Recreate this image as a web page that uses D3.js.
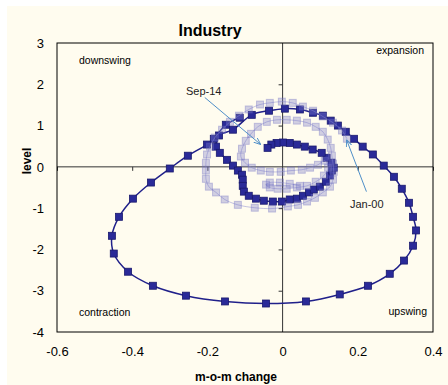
<!DOCTYPE html>
<html>
<head>
<meta charset="utf-8">
<script src="https://cdn.jsdelivr.net/npm/d3@7"></script>
<style>
body { margin: 0; background: #fff; }
text { font-family: Arial, "Liberation Sans", sans-serif; fill: #000; }
</style>
</head>
<body>
<div id="container"></div>
<script>
// recent period (dark squares), m-o-m change and level
var darkX = [-0.114, -0.151, -0.183, -0.201, -0.252, -0.300, -0.350, -0.398, -0.435, -0.454,
	-0.449, -0.411, -0.345, -0.257, -0.153, -0.044, 0.062, 0.152, 0.227, 0.285,
	0.323, 0.347, 0.355, 0.347, 0.336, 0.317, 0.296, 0.269, 0.240, 0.213,
	0.190, 0.168, 0.147, 0.128, 0.107, 0.081, 0.046, 0.006, -0.036, -0.082,
	-0.132, -0.169, -0.177, -0.167, -0.148, -0.132, -0.119, -0.108, -0.106, -0.106,
	-0.103, -0.090, -0.071, -0.050, -0.026, -0.002, 0.019, 0.038, 0.054, 0.070,
	0.083, 0.099, 0.115, 0.126, 0.131, 0.136, 0.130, 0.117, 0.104, 0.080,
	0.059, 0.038, 0.019, 0.001, -0.016, -0.030, -0.040];
var darkY = [1.19, 1.02, 0.68, 0.54, 0.27, -0.04, -0.38, -0.77, -1.21, -1.67,
	-2.10, -2.54, -2.88, -3.12, -3.26, -3.31, -3.26, -3.09, -2.88, -2.59,
	-2.27, -1.91, -1.54, -1.21, -0.87, -0.53, -0.24, 0.03, 0.30, 0.49,
	0.68, 0.85, 1.00, 1.12, 1.24, 1.31, 1.39, 1.41, 1.36, 1.26,
	0.90, 0.76, 0.49, 0.34, 0.17, 0.03, -0.09, -0.19, -0.31, -0.46,
	-0.60, -0.70, -0.77, -0.82, -0.84, -0.84, -0.79, -0.77, -0.70, -0.62,
	-0.55, -0.48, -0.36, -0.21, -0.09, -0.02, 0.10, 0.22, 0.34, 0.42,
	0.49, 0.54, 0.58, 0.59, 0.58, 0.54, 0.46];

// earlier period from Jan-00 (light squares)
var lightX = [0.171, 0.158, 0.134, 0.107, 0.081, 0.054, 0.027, -0.002, -0.034, -0.060,
	-0.090, -0.116, -0.140, -0.161, -0.180, -0.193, -0.201, -0.204, -0.204, -0.204,
	-0.196, -0.177, -0.154, -0.119, -0.074, -0.028, 0.014, 0.041, 0.065, 0.086,
	0.107, 0.126, 0.134, 0.136, 0.134, 0.131, 0.128, 0.120, 0.107, 0.088,
	0.065, 0.038, 0.011, -0.015, -0.042, -0.066, -0.084, -0.098, -0.108, -0.111,
	-0.100, -0.082, -0.058, -0.034, -0.005, 0.022, 0.051, 0.073, 0.094, 0.112,
	0.121, 0.110, 0.088, 0.065, 0.038, 0.011, -0.013, -0.034, -0.044, -0.034,
	-0.007, 0.019, 0.046];
var lightY = [0.68, 0.88, 1.07, 1.22, 1.36, 1.46, 1.55, 1.58, 1.55, 1.51,
	1.39, 1.24, 1.09, 0.90, 0.71, 0.49, 0.30, 0.10, -0.09, -0.29,
	-0.48, -0.62, -0.79, -0.92, -0.99, -1.01, -0.96, -0.92, -0.84, -0.75,
	-0.62, -0.48, -0.31, -0.12, 0.08, 0.27, 0.46, 0.66, 0.85, 0.97,
	1.07, 1.12, 1.14, 1.14, 1.09, 0.97, 0.80, 0.63, 0.44, 0.25,
	0.10, -0.02, -0.09, -0.12, -0.12, -0.09, -0.07, -0.02, 0.05, 0.15,
	-0.02, -0.21, -0.36, -0.46, -0.50, -0.53, -0.53, -0.50, -0.43, -0.38,
	-0.38, -0.41, -0.46];

var xTicks = [-0.6, -0.4, -0.2, 0, 0.2, 0.4];
var yTicks = [-4, -3, -2, -1, 0, 1, 2, 3];

var margin = {top: 43, left: 57},
	width = 376,
	height = 289;

var svg = d3.select("#container").append("svg")
	.attr("width", 448)
	.attr("height", 385);

// cream background of the chart area
svg.append("rect")
	.attr("x", 7).attr("y", 6)
	.attr("width", 441).attr("height", 379)
	.style("fill", "#fffcef");

var g = svg.append("g")
	.attr("transform", "translate(" + margin.left + "," + margin.top + ")");

var x = d3.scaleLinear().domain([-0.6, 0.4]).range([0, width]);
var y = d3.scaleLinear().domain([-4, 3]).range([height, 0]);

// plain hyphen minus like the original
var fmt = function(d) { return String(d); };

// tick labels outside the frame
g.append("g")
	.attr("transform", "translate(0," + height + ")")
	.call(d3.axisBottom(x).tickValues(xTicks).tickSize(0).tickPadding(15).tickFormat(fmt))
	.call(function(a) { a.select(".domain").remove(); })
	.selectAll("text").style("font-size", "13px").style("font-family", "Arial, 'Liberation Sans', sans-serif");

g.append("g")
	.call(d3.axisLeft(y).tickValues(yTicks).tickSize(0).tickPadding(13).tickFormat(fmt))
	.call(function(a) { a.select(".domain").remove(); })
	.selectAll("text").style("font-size", "13px").style("font-family", "Arial, 'Liberation Sans', sans-serif");

// zero lines with their small ticks
g.append("g")
	.attr("transform", "translate(0," + y(0) + ")")
	.call(d3.axisBottom(x).tickValues(xTicks.filter(function(d) { return d != 0; })).tickSize(4).tickFormat(""))
	.call(function(a) {
		a.select(".domain").attr("d", "M0,0H" + width).style("stroke", "#333");
		a.selectAll("line").style("stroke", "#333");
	});

g.append("g")
	.attr("transform", "translate(" + x(0) + ",0)")
	.call(d3.axisLeft(y).tickValues(yTicks.filter(function(d) { return d != 0 && d != 3 && d != -4; })).tickSize(4).tickFormat(""))
	.call(function(a) {
		a.select(".domain").attr("d", "M0,0V" + height).style("stroke", "#333");
		a.selectAll("line").style("stroke", "#333");
	});

// frame
g.append("rect")
	.attr("width", width).attr("height", height)
	.style("fill", "none").style("stroke", "#000").style("stroke-width", 1);

var line = d3.line()
	.x(function(d) { return x(d[0]); })
	.y(function(d) { return y(d[1]); })
	.curve(d3.curveCatmullRom.alpha(0.5));

var darkData = darkX.map(function(v, i) { return [v, darkY[i]]; });
var lightData = lightX.map(function(v, i) { return [v, lightY[i]]; });

// dark series
g.append("path").datum(darkData)
	.attr("d", line)
	.style("fill", "none").style("stroke", "#20208a").style("stroke-width", 1.5);

g.selectAll(".dark").data(darkData).enter()
	.append("rect")
		.attr("class", "dark")
		.attr("x", function(d) { return x(d[0]) - 3.5; })
		.attr("y", function(d) { return y(d[1]) - 3.5; })
		.attr("width", 7).attr("height", 7)
		.style("fill", "#2a2a98").style("stroke", "#1a1a6e").style("stroke-width", 0.8);

// light series on top, translucent
g.append("path").datum(lightData)
	.attr("d", line)
	.style("fill", "none").style("stroke", "#8a8ad0").style("stroke-opacity", 0.5).style("stroke-width", 1);

g.selectAll(".light").data(lightData).enter()
	.append("rect")
		.attr("class", "light")
		.attr("x", function(d) { return x(d[0]) - 3.5; })
		.attr("y", function(d) { return y(d[1]) - 3.5; })
		.attr("width", 7).attr("height", 7)
		.style("fill", "#7c7cc8").style("fill-opacity", 0.35)
		.style("stroke", "#6a6abf").style("stroke-opacity", 0.35);

// quadrant labels
var quad = g.append("g").style("font-size", "10.5px");
quad.append("text").attr("x", 22).attr("y", 21).text("downswing");
quad.append("text").attr("x", 367).attr("y", 11).style("text-anchor", "end").text("expansion");
quad.append("text").attr("x", 22).attr("y", 273).text("contraction");
quad.append("text").attr("x", 370).attr("y", 272).style("text-anchor", "end").text("upswing");

// annotations
svg.append("defs").append("marker")
	.attr("id", "arr")
	.attr("viewBox", "0 0 10 10")
	.attr("refX", 10).attr("refY", 5)
	.attr("markerWidth", 7).attr("markerHeight", 7)
	.attr("orient", "auto")
	.append("path")
		.attr("d", "M0,1L10,5L0,9")
		.style("fill", "none").style("stroke", "#4f8fc8").style("stroke-width", 1.3);

var notes = [
	{label: "Sep-14", tx: -0.257, ty: 1.75, x1: -0.207, y1: 1.68, x2: -0.058, y2: 0.54},
	{label: "Jan-00", tx: 0.179, ty: -0.99, x1: 0.223, y1: -0.60, x2: 0.170, y2: 0.66}
];
notes.forEach(function(n) {
	g.append("line")
		.attr("x1", x(n.x1)).attr("y1", y(n.y1))
		.attr("x2", x(n.x2)).attr("y2", y(n.y2))
		.style("stroke", "#4f8fc8").style("stroke-width", 1)
		.attr("marker-end", "url(#arr)");
	g.append("text")
		.attr("x", x(n.tx)).attr("y", y(n.ty))
		.style("font-size", "11px").style("fill", "#222")
		.text(n.label);
});

// titles
svg.append("text")
	.attr("x", 210).attr("y", 36)
	.style("text-anchor", "middle").style("font-size", "16px").style("font-weight", "bold")
	.text("Industry");

svg.append("text")
	.attr("x", 236).attr("y", 381)
	.style("text-anchor", "middle").style("font-size", "12px").style("font-weight", "bold")
	.text("m-o-m change");

svg.append("text")
	.attr("transform", "translate(31,161) rotate(-90)")
	.style("text-anchor", "middle").style("font-size", "12px").style("font-weight", "bold")
	.text("level");
</script>
</body>
</html>
